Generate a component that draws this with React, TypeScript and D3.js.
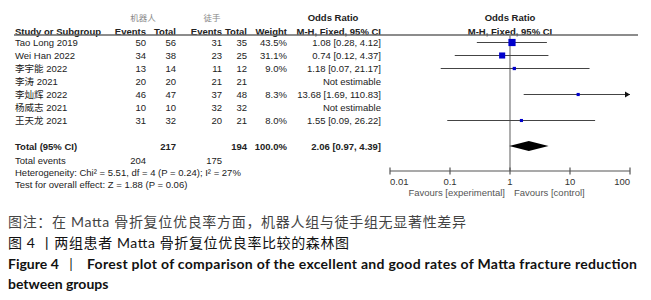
import React from "react";
import * as d3 from "d3";

// ---------- data ----------
const studies = ["Tao Long 2019", "Wei Han 2022", "李宇能 2022", "李涛 2021", "李灿辉 2022", "杨威志 2021", "王天龙 2021"];
const expEvents = [50, 34, 13, 20, 46, 10, 31];
const expTotal = [56, 38, 14, 20, 47, 10, 32];
const ctrlEvents = [31, 23, 11, 21, 37, 32, 20];
const ctrlTotal = [35, 25, 12, 21, 48, 32, 21];
const weights: (number | null)[] = [43.5, 31.1, 9.0, null, 8.3, null, 8.0];
const oddsRatio: (number | null)[] = [1.08, 0.74, 1.18, null, 13.68, null, 1.55];
const ciLower: (number | null)[] = [0.28, 0.12, 0.07, null, 1.69, null, 0.09];
const ciUpper: (number | null)[] = [4.12, 4.37, 21.17, null, 110.83, null, 26.22];

const totalExp = 217;
const totalCtrl = 194;
const totalWeight = "100.0%";
const pooled = { or: 2.06, lo: 0.97, hi: 4.39 };
const totalEventsExp = 204;
const totalEventsCtrl = 175;
const heterogeneity = "Heterogeneity: Chi² = 5.51, df = 4 (P = 0.24); I² = 27%";
const overallTest = "Test for overall effect: Z = 1.88 (P = 0.06)";

const axisTicks = [0.01, 0.1, 1, 10, 100];
const axisTickLabels = ["0.01", "0.1", "1", "10", "100"];

const captionNote = "图注：在 Matta 骨折复位优良率方面，机器人组与徒手组无显著性差异";
const captionCn = "图 4 丨两组患者 Matta 骨折复位优良率比较的森林图";
const captionEnLabel = "Figure 4";
const captionEn1 = "Forest plot of comparison of the excellent and good rates of Matta fracture reduction";
const captionEn2 = "between groups";

// ---------- layout ----------
const W = 651;
const H = 300;
const tableFont = "'Liberation Sans', Arial, 'Noto Sans CJK SC', sans-serif";
const capFont = "Lato, 'Noto Sans CJK SC', sans-serif";
const txt = "#222";

const x = d3.scaleLog().domain([0.01, 100]).range([390, 630]);
const y = d3.scaleLinear().domain([0, studies.length - 1]).range([42.5, 120.5]);
const sq = d3.scaleSqrt().domain([0, 43.5]).range([0, 7.2]);

const col = { study: 15, eEv: 146, eTot: 176, cEv: 222, cTot: 247, weight: 287, or: 381 };

const fmt = (v: number) => v.toFixed(2);

export default function App() {
  const totalY = 146;
  const axisY = 171;
  const fs = 9.5;
  return (
    <svg width={W} height={H} style={{ position: "absolute", left: 0, top: 0, display: "block", background: "#fff" }}>
      <rect width={W} height={H} fill="#fff" />
      <g fontFamily={tableFont} fontSize={fs} fill={txt}>
        {/* group headers */}
        <text x={143} y={17} textAnchor="middle" dominantBaseline="central" fontSize={8.5} fill="#888" fontFamily="'Noto Sans CJK SC', sans-serif">机器人</text>
        <text x={212} y={17} textAnchor="middle" dominantBaseline="central" fontSize={8.5} fill="#888" fontFamily="'Noto Sans CJK SC', sans-serif">徒手</text>
        <text x={333} y={17} textAnchor="middle" dominantBaseline="central" fontWeight="bold">Odds Ratio</text>
        <text x={510} y={17} textAnchor="middle" dominantBaseline="central" fontWeight="bold">Odds Ratio</text>
        {/* column headers */}
        <g fontWeight="bold" dominantBaseline="central">
          <text x={col.study} y={31} dominantBaseline="central">Study or Subgroup</text>
          <text x={col.eEv} y={31} textAnchor="end" dominantBaseline="central">Events</text>
          <text x={col.eTot} y={31} textAnchor="end" dominantBaseline="central">Total</text>
          <text x={col.cEv} y={31} textAnchor="end" dominantBaseline="central">Events</text>
          <text x={col.cTot} y={31} textAnchor="end" dominantBaseline="central">Total</text>
          <text x={col.weight} y={31} textAnchor="end" dominantBaseline="central">Weight</text>
          <text x={col.or} y={31} textAnchor="end" dominantBaseline="central">M-H, Fixed, 95% CI</text>
          <text x={510} y={31} textAnchor="middle" dominantBaseline="central">M-H, Fixed, 95% CI</text>
        </g>
        <line x1={14} x2={638} y1={35} y2={35} stroke="#666" strokeWidth={1.3} />

        {/* reference line at OR = 1 */}
        <line x1={x(1)} x2={x(1)} y1={35} y2={axisY} stroke="#777" strokeWidth={1.2} />

        {/* study rows */}
        {studies.map((s, i) => {
          const yy = y(i);
          const w = weights[i];
          const o = oddsRatio[i];
          const lo = ciLower[i];
          const hi = ciUpper[i];
          const [d0, d1] = x.domain();
          const clippedHi = hi !== null && hi > d1;
          const clippedLo = lo !== null && lo < d0;
          const side = w !== null ? Math.max(2.6, sq(w)) : 0;
          return (
            <g key={s}>
              <text x={col.study} y={yy} dominantBaseline="central">{s}</text>
              <text x={col.eEv} y={yy} textAnchor="end" dominantBaseline="central">{expEvents[i]}</text>
              <text x={col.eTot} y={yy} textAnchor="end" dominantBaseline="central">{expTotal[i]}</text>
              <text x={col.cEv} y={yy} textAnchor="end" dominantBaseline="central">{ctrlEvents[i]}</text>
              <text x={col.cTot} y={yy} textAnchor="end" dominantBaseline="central">{ctrlTotal[i]}</text>
              {w !== null && (
                <text x={col.weight} y={yy} textAnchor="end" dominantBaseline="central">{w.toFixed(1)}%</text>
              )}
              <text x={col.or} y={yy} textAnchor="end" dominantBaseline="central">
                {o !== null && lo !== null && hi !== null ? `${fmt(o)} [${fmt(lo)}, ${fmt(hi)}]` : "Not estimable"}
              </text>
              {o !== null && lo !== null && hi !== null && (
                <g>
                  <line
                    x1={x(Math.max(lo, d0))}
                    x2={x(Math.min(hi, d1))}
                    y1={yy}
                    y2={yy}
                    stroke="#444"
                    strokeWidth={1}
                  />
                  {clippedHi && (
                    <path
                      d={`M${x(d1)},${yy} l-5,-3 l0,6 z`}
                      fill="#111"
                    />
                  )}
                  {clippedLo && (
                    <path d={`M${x(d0)},${yy} l5,-3 l0,6 z`} fill="#111" />
                  )}
                  <rect x={x(o) - side / 2} y={yy - side / 2} width={side} height={side} fill="#0000cc" />
                </g>
              )}
            </g>
          );
        })}

        {/* total row */}
        <g fontWeight="bold">
          <text x={col.study} y={totalY} dominantBaseline="central">Total (95% CI)</text>
          <text x={col.eTot} y={totalY} textAnchor="end" dominantBaseline="central">{totalExp}</text>
          <text x={col.cTot} y={totalY} textAnchor="end" dominantBaseline="central">{totalCtrl}</text>
          <text x={col.weight} y={totalY} textAnchor="end" dominantBaseline="central">{totalWeight}</text>
          <text x={col.or} y={totalY} textAnchor="end" dominantBaseline="central">
            {`${fmt(pooled.or)} [${fmt(pooled.lo)}, ${fmt(pooled.hi)}]`}
          </text>
        </g>
        <path
          d={`M${x(pooled.lo)},${totalY} L${x(pooled.or)},${totalY - 5} L${x(pooled.hi)},${totalY} L${x(pooled.or)},${totalY + 5} Z`}
          fill="#000"
        />
        <text x={col.study} y={160} dominantBaseline="central">Total events</text>
        <text x={col.eEv} y={160} textAnchor="end" dominantBaseline="central">{totalEventsExp}</text>
        <text x={col.cEv} y={160} textAnchor="end" dominantBaseline="central">{totalEventsCtrl}</text>
        <text x={col.study} y={172} dominantBaseline="central">{heterogeneity}</text>
        <text x={col.study} y={184} dominantBaseline="central">{overallTest}</text>

        {/* axis */}
        <line x1={x(0.01)} x2={x(100)} y1={axisY} y2={axisY} stroke="#555" strokeWidth={1.2} />
        {axisTicks.map((t, i) => (
          <g key={t}>
            <line x1={x(t)} x2={x(t)} y1={axisY - 3.5} y2={axisY + 3.5} stroke="#555" strokeWidth={1.2} />
            <text
              x={x(t)}
              y={181.5}
              dominantBaseline="central"
              textAnchor={i === 0 ? "start" : i === axisTicks.length - 1 ? "end" : "middle"}
              fill="#333"
            >
              {axisTickLabels[i]}
            </text>
          </g>
        ))}
        <text x={x(1) - 5} y={192.5} textAnchor="end" dominantBaseline="central" fill="#555">Favours [experimental]</text>
        <text x={x(1) + 4} y={192.5} dominantBaseline="central" fill="#555">Favours [control]</text>
      </g>

      {/* caption */}
      <g fontFamily={capFont}>
        <text x={8} y={221} dominantBaseline="central" fontSize={14} fill="#444" textLength={458} lengthAdjust="spacing">{captionNote}</text>
        <text x={8} y={242} dominantBaseline="central" fontSize={14} fill="#111" textLength={341} lengthAdjust="spacing">{captionCn}</text>
        <text x={8} y={263} dominantBaseline="central" fontSize={14} fontWeight="bold" fill="#111">{captionEnLabel}</text>
        <text x={71} y={263} dominantBaseline="central" fontSize={14} textAnchor="middle" fill="#111">|</text>
        <text x={87} y={263} dominantBaseline="central" fontSize={14} fontWeight="bold" fill="#111" textLength={550} lengthAdjust="spacing">{captionEn1}</text>
        <text x={8} y={283} dominantBaseline="central" fontSize={14} fontWeight="bold" fill="#111">{captionEn2}</text>
      </g>
    </svg>
  );
}
